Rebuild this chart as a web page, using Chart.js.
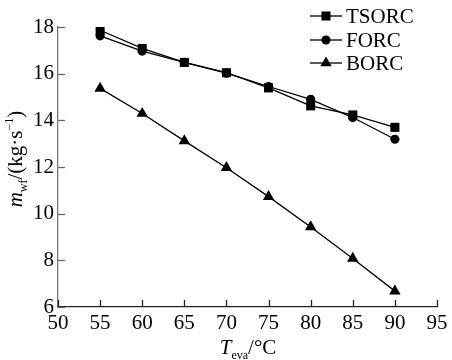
<!DOCTYPE html>
<html>
<head>
<meta charset="utf-8">
<script src="https://cdn.jsdelivr.net/npm/chart.js@4/dist/chart.umd.min.js"></script>
<style>
  html, body { margin: 0; padding: 0; background: #fff; }
  #wrap { width: 452px; height: 360px; }
</style>
</head>
<body>
<div id="wrap"><canvas id="mwfChart" width="452" height="360"></canvas></div>
<script>
// Evaporation temperature (°C)
const temps = [55, 60, 65, 70, 75, 80, 85, 90];

// Working fluid mass flow (kg/s)
const tsorc = [17.86, 17.08, 16.48, 16.04, 15.39, 14.62, 14.23, 13.70];
const forc  = [17.62, 16.97, 16.48, 16.02, 15.45, 14.90, 14.12, 13.19];
const borc  = [15.37, 14.29, 13.12, 11.97, 10.73, 9.43, 8.08, 6.68];

const seriesNames = ['TSORC', 'FORC', 'BORC'];
const markers = ['rect', 'circle', 'triangle'];
const markerRadius = [6.4, 4.6, 6.6];

const xTicks = [50, 55, 60, 65, 70, 75, 80, 85, 90, 95];
const yTicks = [6, 8, 10, 12, 14, 16, 18];

const FONT = '"Liberation Serif", "DejaVu Serif", serif';
const FS = 21;

function makeSet(i, values) {
    return {
        label: seriesNames[i],
        data: temps.map((t, k) => ({ x: t, y: values[k] })),
        borderColor: '#000',
        backgroundColor: '#000',
        borderWidth: 1.3,
        pointStyle: markers[i],
        pointRadius: markerRadius[i],
        pointBackgroundColor: '#000',
        pointBorderColor: '#000',
        pointBorderWidth: 0,
        tension: 0
    };
}

// draws one marker shape
function drawMarker(ctx, style, x, y, r) {
    ctx.beginPath();
    if (style === 'rect') {
        const s = Math.SQRT1_2 * r;
        ctx.rect(x - s, y - s, 2 * s, 2 * s);
    } else if (style === 'circle') {
        ctx.arc(x, y, r, 0, Math.PI * 2);
    } else {
        for (let k = 0; k < 3; k++) {
            const a = k * 2 * Math.PI / 3;
            const px = x + Math.sin(a) * r;
            const py = y - Math.cos(a) * r;
            if (k === 0) ctx.moveTo(px, py); else ctx.lineTo(px, py);
        }
        ctx.closePath();
    }
    ctx.fill();
}

function drawParts(ctx, parts, cx, baseY) {
    ctx.textAlign = 'left';
    ctx.textBaseline = 'alphabetic';
    let total = 0;
    parts.forEach(p => { ctx.font = p.f; total += ctx.measureText(p.t).width; });
    let x = cx - total / 2;
    parts.forEach(p => {
        ctx.font = p.f;
        ctx.fillText(p.t, x, baseY + p.dy);
        x += ctx.measureText(p.t).width;
    });
}

// inward ticks, axis titles with subscripts, and line+marker legend
const decorPlugin = {
    id: 'decor',
    afterDraw(chart) {
        const ctx = chart.ctx;
        const xs = chart.scales.x;
        const ys = chart.scales.y;
        const area = chart.chartArea;
        ctx.save();

        // inward ticks
        ctx.lineWidth = 1.3;
        ctx.strokeStyle = '#222';
        xTicks.forEach(v => {
            const px = Math.round(xs.getPixelForValue(v)) + 0.5;
            ctx.beginPath();
            ctx.moveTo(px, area.bottom);
            ctx.lineTo(px, area.bottom - 7);
            ctx.stroke();
        });
        ctx.strokeStyle = '#666';
        yTicks.forEach(v => {
            const py = Math.round(ys.getPixelForValue(v)) + 0.5;
            ctx.beginPath();
            ctx.moveTo(area.left, py);
            ctx.lineTo(area.left + 7, py);
            ctx.stroke();
        });

        ctx.fillStyle = '#000';

        // x title: T_eva/°C
        drawParts(ctx, [
            { t: 'T', f: 'italic ' + FS + 'px ' + FONT, dy: 0 },
            { t: 'eva', f: '12px ' + FONT, dy: 5 },
            { t: '/°C', f: FS + 'px ' + FONT, dy: 0 }
        ], 248, 354);

        // y title: m_wf/(kg·s^-1), rotated
        ctx.save();
        ctx.translate(22, 159);
        ctx.rotate(-Math.PI / 2);
        drawParts(ctx, [
            { t: 'm', f: 'italic ' + FS + 'px ' + FONT, dy: 0 },
            { t: 'wf', f: '12px ' + FONT, dy: 5 },
            { t: '/(kg·s', f: FS + 'px ' + FONT, dy: 0 },
            { t: '−1', f: '12px ' + FONT, dy: -9 },
            { t: ')', f: FS + 'px ' + FONT, dy: 0 }
        ], 0, 0);
        ctx.restore();

        // legend
        const rowsY = [16, 40, 63];
        chart.data.datasets.forEach((ds, i) => {
            const y = rowsY[i];
            ctx.strokeStyle = '#000';
            ctx.lineWidth = 1.3;
            ctx.beginPath();
            ctx.moveTo(310, y);
            ctx.lineTo(342, y);
            ctx.stroke();
            drawMarker(ctx, markers[i], 326, y, markerRadius[i]);
            ctx.font = FS + 'px ' + FONT;
            ctx.textAlign = 'left';
            ctx.textBaseline = 'middle';
            ctx.fillText(ds.label, 346, y + 1);
        });

        ctx.restore();
    }
};

new Chart(document.getElementById('mwfChart').getContext('2d'), {
    type: 'line',
    data: {
        datasets: [
            makeSet(0, tsorc),
            makeSet(1, forc),
            makeSet(2, borc)
        ]
    },
    options: {
        responsive: false,
        animation: false,
        layout: {
            padding: { top: 27, right: 15, left: 0, bottom: 0 }
        },
        plugins: {
            legend: { display: false },
            tooltip: { enabled: false }
        },
        scales: {
            x: {
                type: 'linear',
                min: 50,
                max: 95,
                afterBuildTicks: scale => {
                    scale.ticks = xTicks.map(v => ({ value: v }));
                },
                afterFit: scale => { scale.height = 53; },
                grid: { display: false, drawTicks: false },
                border: { display: true, color: '#222', width: 1.3 },
                ticks: {
                    padding: 4,
                    color: '#000',
                    maxRotation: 0,
                    autoSkip: false,
                    font: { family: FONT, size: FS }
                }
            },
            y: {
                type: 'linear',
                min: 6,
                max: 18,
                afterBuildTicks: scale => {
                    scale.ticks = yTicks.map(v => ({ value: v }));
                },
                afterFit: scale => { scale.width = 58; },
                grid: { display: false, drawTicks: false },
                border: { display: true, color: '#777', width: 1.3 },
                ticks: {
                    padding: 4,
                    color: '#000',
                    autoSkip: false,
                    font: { family: FONT, size: FS }
                }
            }
        }
    },
    plugins: [decorPlugin]
});
</script>
</body>
</html>
